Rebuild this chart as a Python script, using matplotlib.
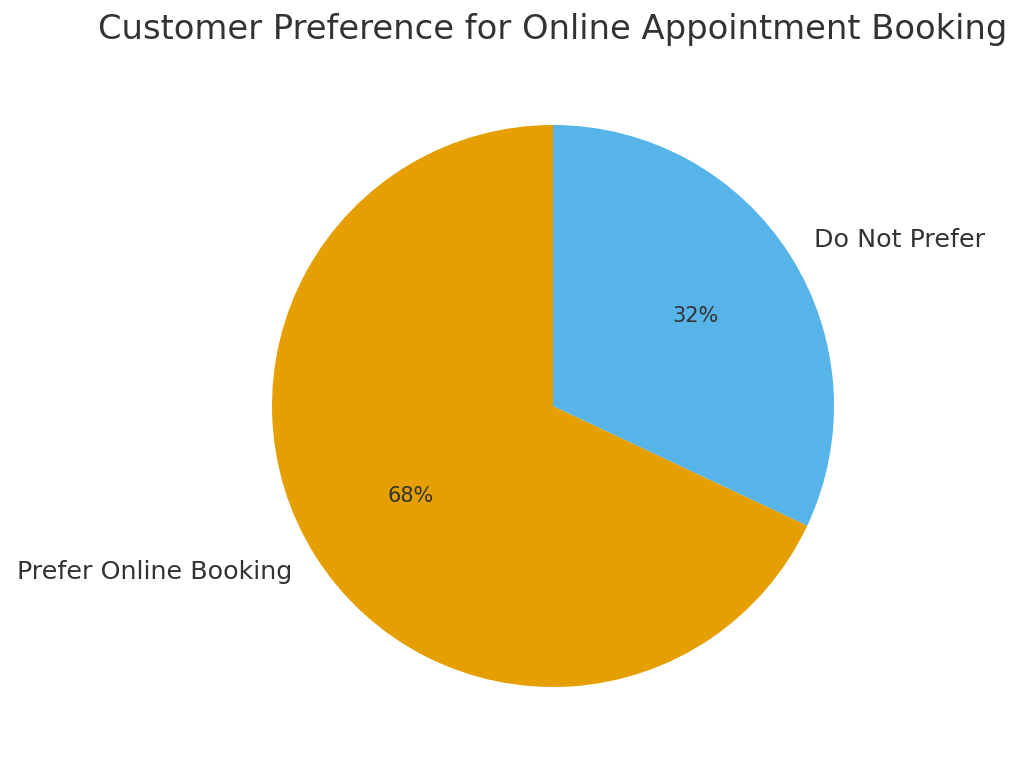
import matplotlib
matplotlib.use("Agg")
import matplotlib.pyplot as plt

labels = ["Prefer Online Booking", "Do Not Prefer"]
values = [68, 32]
colors = ["#E69F00", "#56B4E9"]

fig = plt.figure(figsize=(10.24, 7.73), dpi=100)
ax = fig.add_axes([(553 - 281) / 1024, (773 - 406 - 281) / 773, 562 / 1024, 562 / 773])
wedges, texts, autotexts = ax.pie(
    values, labels=labels, colors=colors, autopct="%1.0f%%", startangle=90,
    textprops={"fontsize": 18.3, "color": "#333333"},
)
for t in autotexts:
    t.set_fontsize(15)
ax.set_xlim(-1, 1)
ax.set_ylim(-1, 1)
ax.set_aspect("equal")
fig.text(553 / 1024, 1 - 30 / 773, "Customer Preference for Online Appointment Booking",
         ha="center", va="center", fontsize=24.3, color="#333333")
fig.savefig("out.png", dpi=100)
